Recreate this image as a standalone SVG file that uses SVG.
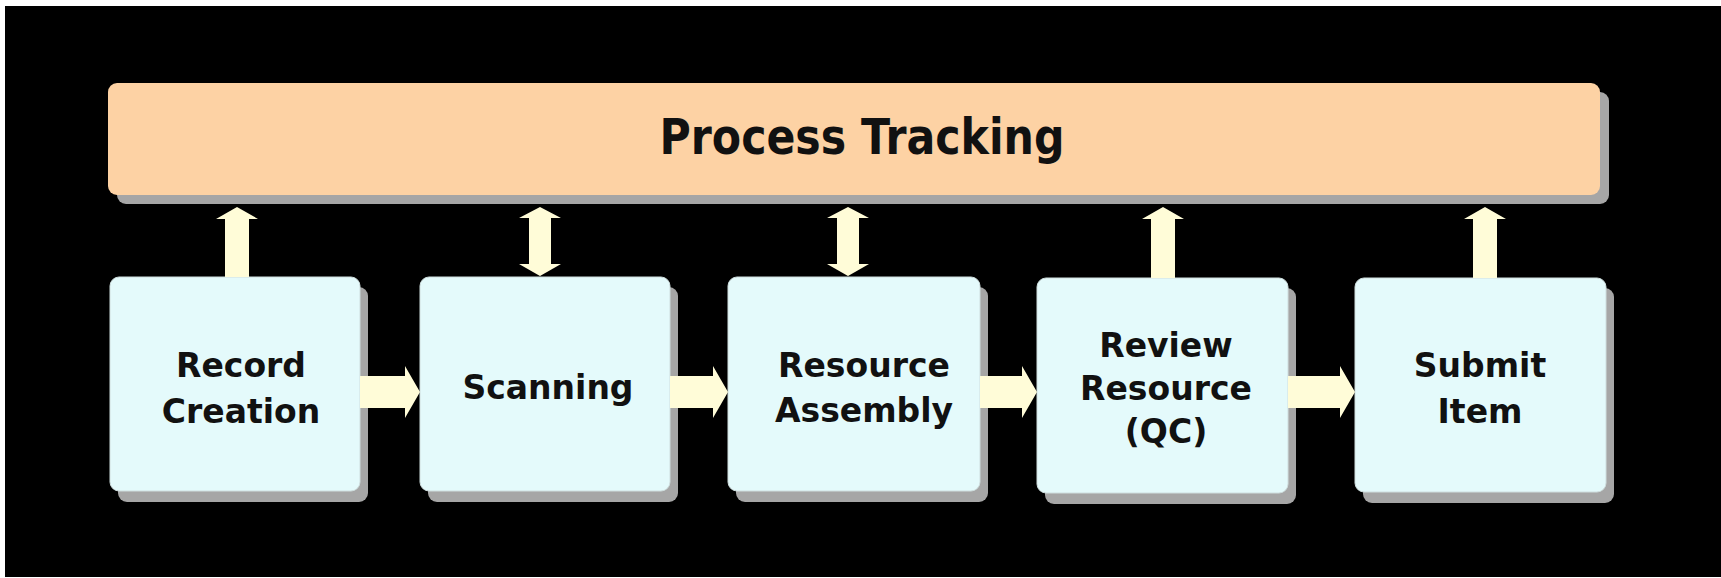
<svg xmlns="http://www.w3.org/2000/svg" width="1721" height="578" viewBox="0 0 1721 578">
<style>
.shadow{fill:#a6a6a6}
.bar{fill:#fdd2a4}
.box{fill:#e4fafb;stroke:#cfdede;stroke-width:1}
.arrow{fill:#fffcd8}
.lbl{font-family:"DejaVu Sans","Liberation Sans",sans-serif;font-weight:bold;font-size:33px;fill:#111;text-anchor:middle}
.title{font-family:"DejaVu Sans","Liberation Sans",sans-serif;font-weight:bold;font-size:49px;fill:#111;text-anchor:middle}
</style>
<rect x="0" y="0" width="1721" height="578" fill="#ffffff"/>
<rect x="5" y="6" width="1716" height="571" fill="#000000"/>
<g id="process-tracking">
<rect class="shadow" x="117" y="92" width="1492" height="112" rx="9"/>
<rect class="bar" x="108" y="83" width="1492" height="112" rx="9"/>
<text class="title" x="862" y="154" textLength="405" lengthAdjust="spacingAndGlyphs">Process Tracking</text>
</g>
<g id="record-creation">
<rect class="shadow" x="118" y="287" width="250" height="215" rx="9"/>
<rect class="box" x="110" y="277" width="250" height="214" rx="9"/>
<text class="lbl" x="241" y="377">Record</text>
<text class="lbl" x="241" y="423">Creation</text>
</g>
<g id="scanning">
<rect class="shadow" x="428" y="287" width="250" height="215" rx="9"/>
<rect class="box" x="420" y="277" width="250" height="214" rx="9"/>
<text class="lbl" x="548" y="399">Scanning</text>
</g>
<g id="resource-assembly">
<rect class="shadow" x="736" y="287" width="252" height="215" rx="9"/>
<rect class="box" x="728" y="277" width="252" height="214" rx="9"/>
<text class="lbl" x="864" y="377">Resource</text>
<text class="lbl" x="864" y="422">Assembly</text>
</g>
<g id="review-resource">
<rect class="shadow" x="1045" y="288" width="251" height="216" rx="9"/>
<rect class="box" x="1037" y="278" width="251" height="215" rx="9"/>
<text class="lbl" x="1166" y="357">Review</text>
<text class="lbl" x="1166" y="400">Resource</text>
<text class="lbl" x="1166" y="443">(QC)</text>
</g>
<g id="submit-item">
<rect class="shadow" x="1363" y="288" width="251" height="215" rx="9"/>
<rect class="box" x="1355" y="278" width="251" height="214" rx="9"/>
<text class="lbl" x="1480" y="377">Submit</text>
<text class="lbl" x="1480" y="423">Item</text>
</g>
<g id="connectors">
<polygon class="arrow" points="237,207 258,219 249,219 249,277 225,277 225,219 216,219"/>
<polygon class="arrow" points="540,207 561,218 551,218 551,264 561,264 540,276 519,264 529,264 529,218 519,218"/>
<polygon class="arrow" points="848,207 869,218 859,218 859,264 869,264 848,276 827,264 837,264 837,218 827,218"/>
<polygon class="arrow" points="1163,207 1184,219 1175,219 1175,278 1151,278 1151,219 1142,219"/>
<polygon class="arrow" points="1485,207 1506,219 1497,219 1497,278 1473,278 1473,219 1464,219"/>
<polygon class="arrow" points="360,376 405,376 405,366 420,392 405,418 405,408 360,408"/>
<polygon class="arrow" points="670,376 713,376 713,366 728,392 713,418 713,408 670,408"/>
<polygon class="arrow" points="980,376 1022,376 1022,366 1037,392 1022,418 1022,408 980,408"/>
<polygon class="arrow" points="1288,376 1340,376 1340,366 1355,392 1340,418 1340,408 1288,408"/>
</g>
</svg>
